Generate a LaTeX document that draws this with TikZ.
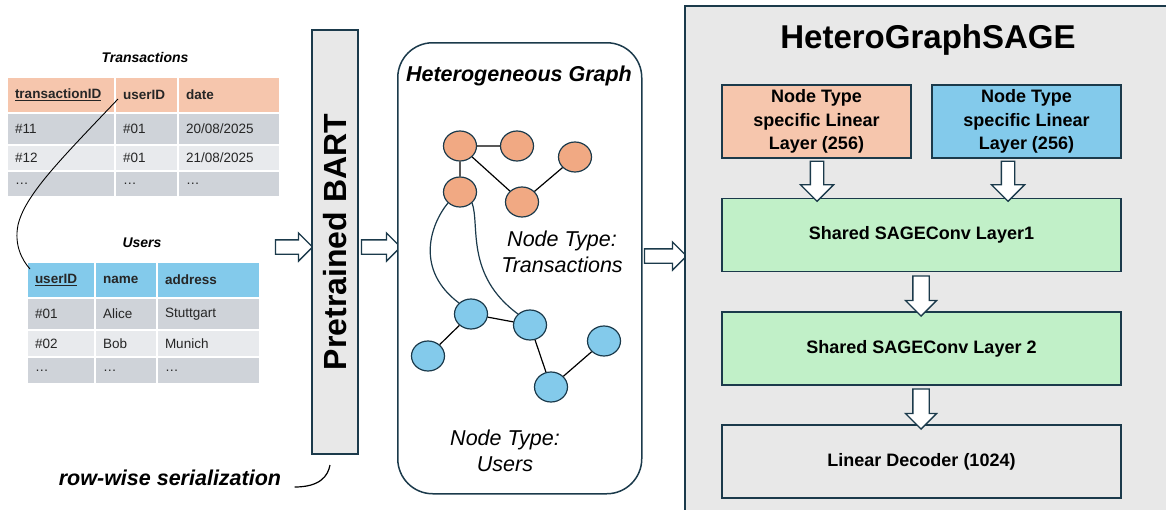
\documentclass[tikz,border=0pt]{standalone}
\usepackage{fontspec}
\setmainfont{Liberation Sans}
\usetikzlibrary{shapes.geometric, shapes.arrows}
\definecolor{navy}{HTML}{1B3A4B}
\definecolor{peach}{HTML}{F6C6AD}
\definecolor{txorange}{HTML}{F1A983}
\definecolor{usblue}{HTML}{83CAEB}
\definecolor{rowdark}{HTML}{CFD3D9}
\definecolor{rowlight}{HTML}{E8EAED}
\definecolor{layergreen}{HTML}{C1F0C8}
\definecolor{panelgray}{HTML}{E8E8E8}
\tikzset{
cell/.style={
       anchor=north west,
       draw=white, line width=2pt,
       inner xsep=8pt, inner ysep=0pt,
       align=left,
       text=black!85,
       font=\fontsize{13.5}{15}\selectfont,
       },
hdr/.style={font=\bfseries\fontsize{13.5}{15}\selectfont},
tabtitle/.style={font=\bfseries\itshape\fontsize{14}{16}\selectfont},
graphnode/.style={ellipse, draw=navy, line width=1.2pt, minimum width=33pt, minimum height=30pt, inner sep=0pt},
edge/.style={draw=black, line width=1.2pt},
link/.style={draw=navy, line width=1.2pt},
typelbl/.style={align=center, font=\itshape\fontsize{21.5}{26}\selectfont},
layer/.style={
       draw=navy, line width=1.5pt,
       minimum height=73pt,
       align=center,
       font=\bfseries\fontsize{18}{23.5}\selectfont,
       },
rarrow/.style={single arrow, draw=navy, fill=white, line width=1.3pt,
       inner xsep=0pt, inner ysep=6.5pt, single arrow head extend=7pt},
darrow/.style={single arrow, draw=navy, fill=white, line width=1.3pt, shape border rotate=270,
       inner ysep=0pt, inner xsep=6pt, single arrow head extend=10pt},
}

\begin{document}
\begin{tikzpicture}[x=1pt, y=-1pt]
    \clip (0,0) rectangle (1166,509);

    % Transactions table
    \node[tabtitle] (ttitle) at (145,57) {Transactions};
    \foreach \x/\w/\t [count=\c, evaluate=\w as \tw using \w-16] in {
        6/108/\underline{transactionID},
        114/63/userID,
        177/102/date
    } {
        \node[cell, hdr, fill=peach, text width=\tw pt, minimum height=36pt] (th\c) at (\x,76) {\t};
    }
    \foreach \y/\h/\f/\a/\b/\d [count=\r] in {
        112/32/rowdark/\#11/\#01/{20/08/2025},
        144/26/rowlight/\#12/\#01/{21/08/2025},
        170/26/rowdark/\ldots/\ldots/\ldots
    } {
        \node[cell, fill=\f, text width=92pt, minimum height=\h pt] (tr\r a) at (6,\y) {\a};
        \node[cell, fill=\f, text width=47pt, minimum height=\h pt] (tr\r b) at (114,\y) {\b};
        \node[cell, fill=\f, text width=86pt, minimum height=\h pt] (tr\r c) at (177,\y) {\d};
    }

    % Users table
    \node[tabtitle] (utitle) at (142,243) {Users};
    \foreach \x/\w/\t [count=\c, evaluate=\w as \tw using \w-16] in {
        26/68/\underline{userID},
        94/62/name,
        156/103/address
    } {
        \node[cell, hdr, fill=usblue, text width=\tw pt, minimum height=36pt] (uh\c) at (\x,261) {\t};
    }
    \foreach \y/\h/\f/\a/\b/\d [count=\r] in {
        297/32/rowdark/\#01/Alice/Stuttgart,
        329/27/rowlight/\#02/Bob/Munich,
        356/27/rowdark/\ldots/\ldots/\ldots
    } {
        \node[cell, fill=\f, text width=52pt, minimum height=\h pt] (ur\r a) at (26,\y) {\a};
        \node[cell, fill=\f, text width=46pt, minimum height=\h pt] (ur\r b) at (94,\y) {\b};
        \node[cell, fill=\f, text width=87pt, minimum height=\h pt] (ur\r c) at (156,\y) {\d};
    }

    % foreign key
    \draw[black, line width=0.9pt] ([xshift=4pt, yshift=-4pt]th2.west)
        .. controls (60,160) and (25,195) .. (18,225)
        .. controls (14,245) and (22,260) .. ([xshift=4pt, yshift=11pt]uh1.west);

    \node[rarrow, minimum height=37pt] (toBart) at (290.5,247) {};

    % BART encoder
    \node[draw=navy, fill=panelgray, line width=1.5pt, rotate=90,
          minimum width=424pt, minimum height=46pt, inner sep=0pt,
          font=\bfseries\fontsize{32}{36}\selectfont] (bart) at (335,242) {Pretrained BART};

    \node[rarrow, minimum height=39pt] (toGraph) at (377.5,247) {};

    % graph
    \node[draw=navy, fill=white, line width=1.5pt, rounded corners=35pt,
          anchor=north west, minimum width=244pt, minimum height=451pt] (graph) at (397,42) {};
    \node[font=\bfseries\itshape\fontsize{21.5}{24}\selectfont] (gtitle) at (519,76) {Heterogeneous Graph};

    \foreach \n/\x/\y in {1/460/146, 2/517/146, 3/575/157, 4/460/192, 5/522/202}
        \node[graphnode, fill=txorange] (tx\n) at (\x,\y) {};
    \foreach \n/\x/\y in {1/471/314, 2/530/325, 3/428/356, 4/604/341, 5/551/387}
        \node[graphnode, fill=usblue] (us\n) at (\x,\y) {};

    \draw[edge] (tx1) -- (tx2) (tx1) -- (tx4) (tx1) -- (tx5) (tx5) -- (tx3);
    \draw[edge] (us1) -- (us2) (us1) -- (us3) (us2) -- (us5) (us5) -- (us4);
    \draw[link] (tx4.south west) .. controls (430,225) and (415,270) .. (us1.north west);
    \draw[link] (tx4.south east) .. controls (480,225) and (465,275) .. (us2.north west);

    \node[typelbl] (txlbl) at (562,252) {Node Type:\\Transactions};
    \node[typelbl] (uslbl) at (505,451) {Node Type:\\Users};

    \node[rarrow, minimum height=42pt] (toSage) at (662,256) {};

    % GNN
    \node[draw=navy, fill=panelgray, line width=1.5pt, anchor=north west,
          minimum width=500pt, minimum height=520pt] (sage) at (684,5) {};
    \node[font=\bfseries\fontsize{33}{38}\selectfont] (stitle) at (928,40) {HeteroGraphSAGE};

    \node[layer, fill=peach, minimum width=189pt] (lintx) at (816.5,121.5) {Node Type\\specific Linear\\Layer (256)};
    \node[layer, fill=usblue, minimum width=189pt] (linus) at (1026.5,121.5) {Node Type\\specific Linear\\Layer (256)};
    \node[layer, fill=layergreen, minimum width=399pt] (conv1) at (921.5,235) {Shared SAGEConv Layer1};
    \node[layer, fill=layergreen, minimum width=399pt] (conv2) at (921.5,348.5) {Shared SAGEConv Layer 2};
    \node[layer, fill=panelgray, minimum width=399pt] (dec) at (921.5,461.5) {Linear Decoder (1024)};

    \node[darrow, minimum height=40pt] (d1) at (817,178) {};
    \node[darrow, minimum height=40pt] (d2) at (1008,178) {};
    \node[darrow, inner xsep=7.5pt, single arrow head extend=7.5pt, minimum height=40pt] (d3) at (921,292) {};
    \node[darrow, inner xsep=7.5pt, single arrow head extend=7.5pt, minimum height=40pt] (d4) at (921,405) {};

    % caption
    \node[font=\bfseries\itshape\fontsize{21.5}{25}\selectfont] (ser) at (170,478) {row-wise serialization};
    \coordinate (serEnd) at (330,465);
    \draw[black, line width=1.2pt] ([xshift=10pt, yshift=-9pt]ser.east) .. controls (320,487) and (328,476) .. (serEnd);
\end{tikzpicture}
\end{document}
